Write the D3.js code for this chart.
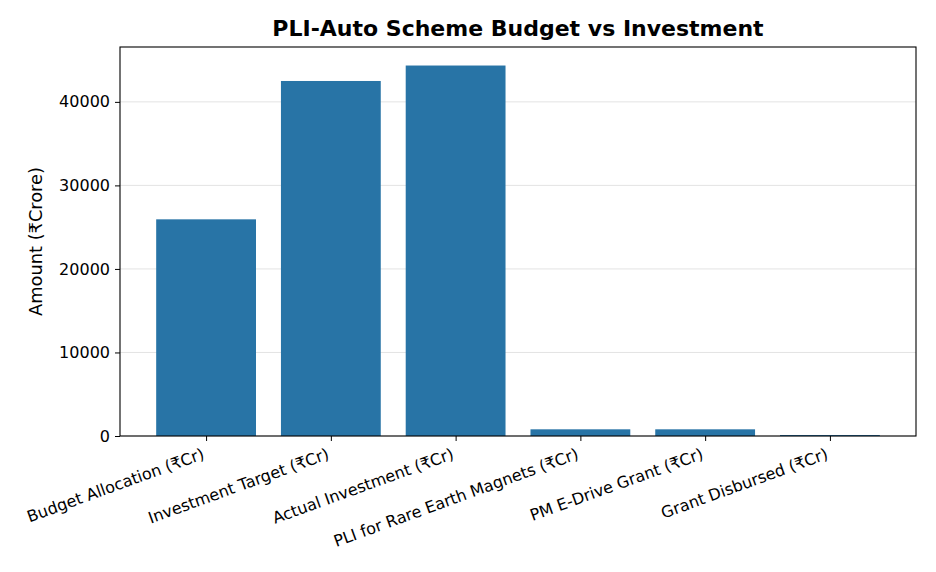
<!DOCTYPE html>
<html>
<head>
<meta charset="utf-8">
<script src="https://cdn.jsdelivr.net/npm/d3@7"></script>
<style>
  html, body { margin: 0; padding: 0; background: #fff; }
  svg { display: block; font-family: "DejaVu Sans", sans-serif; }
</style>
</head>
<body>
<svg id="chart" width="936" height="572"></svg>
<script>
const categories = [
  "Budget Allocation (₹Cr)",
  "Investment Target (₹Cr)",
  "Actual Investment (₹Cr)",
  "PLI for Rare Earth Magnets (₹Cr)",
  "PM E-Drive Grant (₹Cr)",
  "Grant Disbursed (₹Cr)"
];
const values = [25938, 42500, 44350, 800, 800, 120];
const yTicks = [0, 10000, 20000, 30000, 40000];
const titleText = "PLI-Auto Scheme Budget vs Investment";
const yLabelText = "Amount (₹Crore)";

const svg = d3.select("#chart");
const mLeft = 120, mRight = 916, mTop = 47, mBottom = 436;

const n = categories.length;
const barW = 0.8;
const xPad = (n - 1 + barW) * 0.05;
const x = d3.scaleLinear()
  .domain([-barW / 2 - xPad, n - 1 + barW / 2 + xPad])
  .range([mLeft, mRight]);
const yMax = d3.max(values) * 1.05;
const y = d3.scaleLinear().domain([0, yMax]).range([mBottom, mTop]);

// grid
svg.append("g")
  .selectAll("line")
  .data(yTicks)
  .join("line")
  .attr("x1", mLeft).attr("x2", mRight)
  .attr("y1", d => y(d)).attr("y2", d => y(d))
  .attr("stroke", "#e3e3e3").attr("stroke-width", 1);

// bars
svg.append("g")
  .selectAll("rect")
  .data(values)
  .join("rect")
  .attr("x", (d, i) => x(i - barW / 2))
  .attr("width", (d, i) => x(i + barW / 2) - x(i - barW / 2))
  .attr("y", d => y(d))
  .attr("height", d => y(0) - y(d))
  .attr("fill", "#2874a6");

// frame
svg.append("rect")
  .attr("x", mLeft).attr("y", mTop)
  .attr("width", mRight - mLeft).attr("height", mBottom - mTop)
  .attr("fill", "none").attr("stroke", "#000").attr("stroke-width", 1.1);

// y axis
const yAxis = svg.append("g")
  .attr("transform", `translate(${mLeft},0)`)
  .call(d3.axisLeft(y).tickValues(yTicks).tickFormat(d3.format("d")).tickSize(5).tickPadding(5));
yAxis.select(".domain").remove();
yAxis.selectAll("text").attr("font-size", 16).attr("font-family", "DejaVu Sans").attr("fill", "#000");
yAxis.selectAll("line").attr("stroke", "#000");

// x axis
const xAxis = svg.append("g")
  .attr("transform", `translate(0,${mBottom})`)
  .call(d3.axisBottom(x).tickValues(d3.range(n)).tickFormat(i => categories[i]).tickSize(5).tickPadding(6));
xAxis.select(".domain").remove();
xAxis.selectAll("line").attr("stroke", "#000");
const fs = 16, asc = 0.76 * fs, desc = 0.24 * fs, th = 20 * Math.PI / 180;
xAxis.selectAll("text")
  .attr("font-size", fs).attr("font-family", "DejaVu Sans").attr("fill", "#000")
  .attr("text-anchor", "end")
  .attr("dy", null)
  .attr("y", null)
  .attr("transform", `translate(${-desc * Math.sin(th)},${11 + asc * Math.cos(th)}) rotate(-20)`);

// title
svg.append("text")
  .attr("x", (mLeft + mRight) / 2).attr("y", 36)
  .attr("text-anchor", "middle")
  .attr("font-size", 22).attr("font-weight", "bold")
  .text(titleText);

// y label
svg.append("text")
  .attr("transform", `translate(42,${(mTop + mBottom) / 2}) rotate(-90)`)
  .attr("text-anchor", "middle")
  .attr("font-size", 17.8)
  .text(yLabelText);
</script>
</body>
</html>
